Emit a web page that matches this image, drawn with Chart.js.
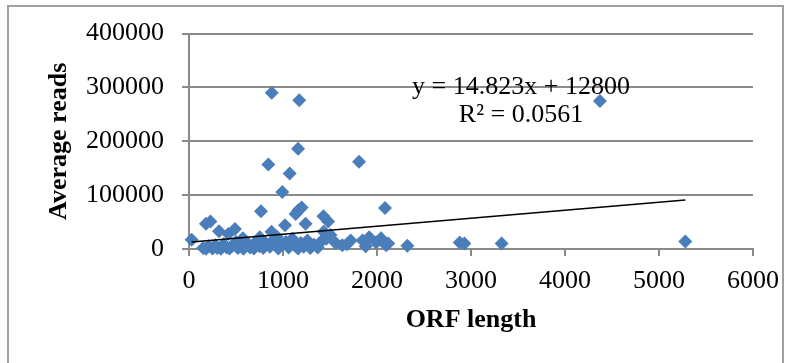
<!DOCTYPE html>
<html>
<head>
<meta charset="utf-8">
<script src="https://cdn.jsdelivr.net/npm/chart.js@4"></script>
<style>
  body { margin: 0; background: #ffffff; }
  #wrap { position: relative; width: 791px; height: 363px; }
</style>
</head>
<body>
<div id="wrap"><canvas id="myChart" width="791" height="363"></canvas></div>
<script>
// values
const orfLength = [
    28, 880, 1173, 1160, 844, 1071, 993, 4372, 5280, 1809,
    2085, 766, 1199, 1163, 1135, 180, 228, 1240, 1430, 1480,
    1021, 319, 489, 418, 878, 753, 573, 933, 1505, 1433,
    1631, 1720, 1846, 1917, 2043, 2097, 2323, 2880, 2930, 3326,
    1990, 150, 180, 210, 250, 280, 300, 340, 370, 400,
    430, 460, 500, 520, 550, 580, 620, 650, 690, 720,
    750, 790, 820, 860, 900, 950, 990, 1030, 1060, 1100,
    1130, 1160, 1190, 1220, 1260, 1290, 1330, 1370, 1400, 1460,
    1560, 1680, 1880, 2120
];
const avgReads = [
    17000, 290000, 276000, 186000, 157000, 140000, 106000, 275000, 14000, 162000,
    76000, 70000, 77000, 72000, 65000, 47000, 51000, 47000, 61000, 51000,
    44000, 33000, 37000, 28000, 32000, 22000, 20000, 23000, 26000, 32000,
    7000, 16000, 16000, 22000, 20000, 7000, 6000, 12000, 10000, 10000,
    12000, 2000, 500, 5000, 1000, 7000, 2000, 500, 9000, 3000,
    1000, 6000, 13000, 2000, 8000, 500, 11000, 3000, 1000, 15000,
    5000, 2000, 10000, 4000, 17000, 1000, 8000, 13000, 3000, 19000,
    6000, 1000, 11000, 4000, 16000, 2000, 8000, 3000, 13000, 19000,
    11000, 9000, 5000, 10000
];
const xTicks = [0, 1000, 2000, 3000, 4000, 5000, 6000];
const yTicks = [0, 100000, 200000, 300000, 400000];

// trendline shown on the chart
const slope = 14.823;
const intercept = 12800;
const rSquared = '0.0561';

const points = orfLength.map((x, i) => ({ x: x, y: avgReads[i] }));
const minX = Math.min(...orfLength);
const maxX = Math.max(...orfLength);
const trendPoints = [
    { x: minX, y: slope * minX + intercept },
    { x: maxX, y: slope * maxX + intercept }
];

const serif = '"Liberation Serif", "Times New Roman", serif';
const gridGray = '#8a8a8a';

const frameAndLabel = {
    id: 'frameAndLabel',
    beforeDraw(chart) {
        const ctx = chart.ctx;
        ctx.save();
        ctx.strokeStyle = '#a0a0a0';
        ctx.lineWidth = 2;
        ctx.strokeRect(8, 6, 775, 400);
        ctx.restore();
    },
    afterDatasetsDraw(chart) {
        const ctx = chart.ctx;
        ctx.save();
        ctx.fillStyle = '#000000';
        ctx.font = '26px ' + serif;
        ctx.textAlign = 'center';
        ctx.textBaseline = 'alphabetic';
        ctx.fillText('y = ' + slope + 'x + ' + intercept, 521, 94);
        ctx.fillText('R\u00B2 = ' + rSquared, 521, 122);
        ctx.restore();
    }
};

const data = {
    datasets: [
        {
            label: 'Linear (Average reads)',
            data: trendPoints,
            showLine: true,
            borderColor: '#000000',
            borderWidth: 1.5,
            pointRadius: 0,
            order: 0
        },
        {
            label: 'Average reads',
            data: points,
            pointStyle: 'rectRot',
            pointRadius: 7,
            pointHoverRadius: 7,
            backgroundColor: '#4a7ebb',
            borderColor: '#4a7ebb',
            borderWidth: 0,
            clip: false,
            order: 1
        }
    ]
};

const options = {
    responsive: false,
    animation: false,
    layout: {
        padding: { left: 0, right: 38, top: 33, bottom: 0 }
    },
    scales: {
        x: {
            type: 'linear',
            min: 0,
            max: 6000,
            afterFit: (s) => { s.height = 114; },
            afterBuildTicks: (s) => { s.ticks = xTicks.map(v => ({ value: v })); },
            grid: {
                drawOnChartArea: false,
                drawTicks: true,
                tickLength: 7,
                color: gridGray,
                lineWidth: 2
            },
            border: { color: gridGray, width: 2 },
            ticks: {
                color: '#000000',
                font: { family: serif, size: 26 },
                padding: 10,
                maxRotation: 0,
                autoSkip: false,
                callback: (v) => String(v)
            },
            title: {
                display: true,
                text: 'ORF length',
                color: '#000000',
                font: { family: serif, size: 26, weight: 'bold' },
                padding: { top: 0, bottom: 27 }
            }
        },
        y: {
            min: 0,
            max: 400000,
            afterFit: (s) => { s.width = 189; },
            afterBuildTicks: (s) => { s.ticks = yTicks.map(v => ({ value: v })); },
            grid: {
                drawTicks: true,
                tickLength: 7,
                color: gridGray,
                lineWidth: 2
            },
            border: { color: gridGray, width: 2 },
            ticks: {
                color: '#000000',
                font: { family: serif, size: 26 },
                padding: 18,
                callback: (v) => String(v)
            },
            title: {
                display: true,
                text: 'Average reads',
                color: '#000000',
                font: { family: serif, size: 26, weight: 'bold' },
                padding: { top: 44, bottom: 0 }
            }
        }
    },
    plugins: {
        legend: { display: false },
        tooltip: { enabled: false }
    }
};

const canvas = document.getElementById('myChart');
const ctx = canvas.getContext('2d');

const myChart = new Chart(ctx, {
    type: 'scatter',
    data: data,
    options: options,
    plugins: [frameAndLabel]
});
</script>
</body>
</html>
